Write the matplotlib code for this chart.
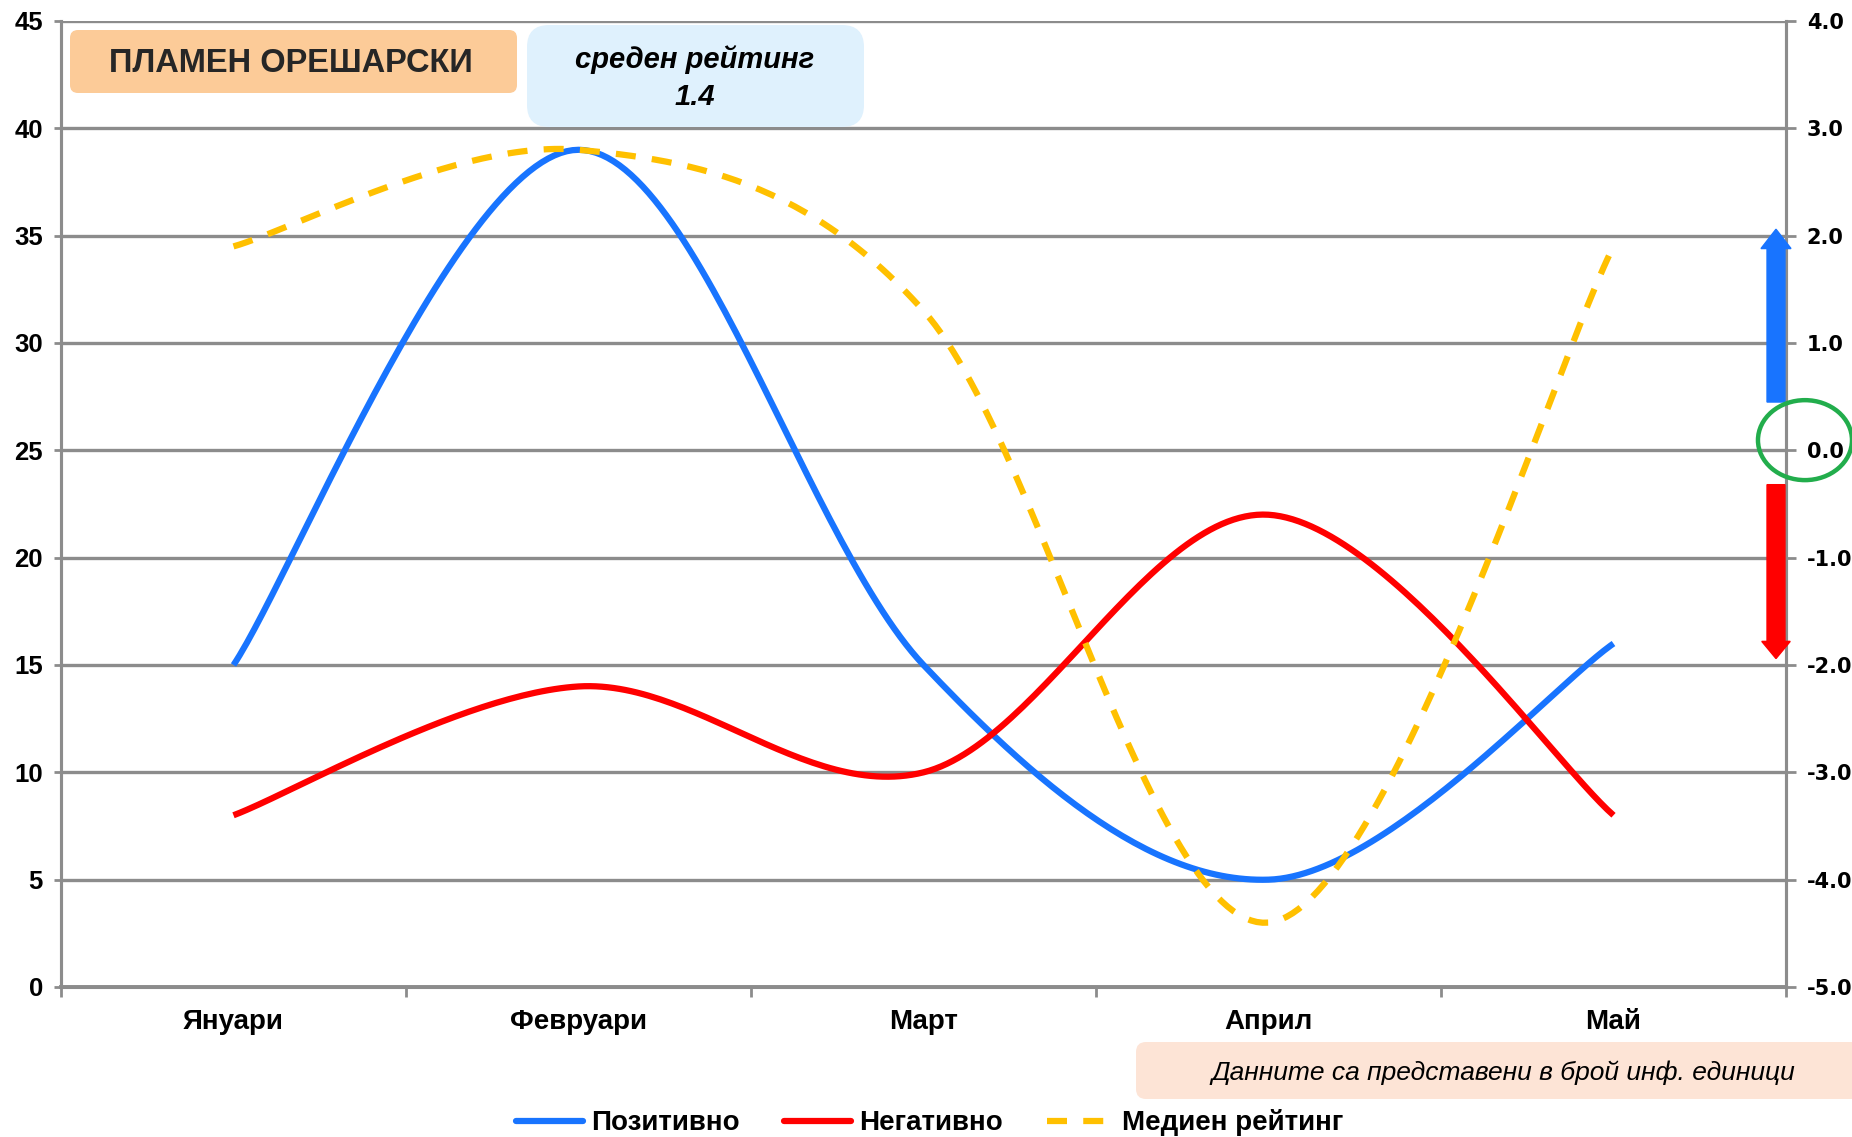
import numpy as np
import matplotlib
matplotlib.use("Agg")
import matplotlib.pyplot as plt
from matplotlib.patches import FancyBboxPatch, FancyArrow, Ellipse
from matplotlib.transforms import IdentityTransform, blended_transform_factory
from matplotlib.lines import Line2D

plt.rcParams["font.family"] = ["Liberation Sans", "DejaVu Sans"]

months = ["Януари", "Февруари", "Март", "Април", "Май"]
positive = [15, 39, 15, 5, 16]
negative = [8, 14, 10, 22, 8]
median_rating = [1.9, 2.8, 1.3, -4.4, 1.9]
left_ticks = list(range(0, 50, 5))
right_ticks = [-5, -4, -3, -2, -1, 0, 1, 2, 3, 4]

BLUE = "#1874ff"
RED = "#ff0000"
YELLOW = "#ffc000"
GRID = "#8c8c8c"
DASH = (3.2, 2.6)

W, H = 1852, 1137


def smooth(xs, ys, n=60):
    # Bezier smoothing like spreadsheet "smoothed line"
    pts = np.column_stack([xs, ys]).astype(float)
    padded = np.vstack([pts[0], pts, pts[-1]])
    t = np.linspace(0, 1, n)[:, None]
    out = []
    for i in range(len(pts) - 1):
        p0, p1, p2, p3 = padded[i], padded[i + 1], padded[i + 2], padded[i + 3]
        c1 = p1 + (p2 - p0) / 6
        c2 = p2 - (p3 - p1) / 6
        seg = (1 - t) ** 3 * p1 + 3 * (1 - t) ** 2 * t * c1 + 3 * (1 - t) * t ** 2 * c2 + t ** 3 * p2
        out.append(seg if i == 0 else seg[1:])
    s = np.vstack(out)
    return s[:, 0], s[:, 1]


fig = plt.figure(figsize=(W / 100, H / 100), dpi=100)
ax = fig.add_axes([61 / W, 1 - 987 / H, (1786 - 61) / W, (987 - 21) / H])
ax2 = ax.twinx()

x = np.arange(len(months))

bx, by = smooth(x, positive)
ax.plot(bx, by, color=BLUE, lw=4.5, solid_capstyle="butt", label="Позитивно", zorder=3)
rx, ry = smooth(x, negative)
ax.plot(rx, ry, color=RED, lw=4.5, solid_capstyle="butt", label="Негативно", zorder=3)
yx, yy = smooth(x, median_rating)
ax2.plot(yx, yy, color=YELLOW, lw=4.5, dashes=DASH, label="Медиен рейтинг", zorder=3)

ax.set_xlim(-0.5, len(months) - 0.5)
ax.set_ylim(0, 45)
ax2.set_ylim(-5, 4)

# left axis
ax.set_yticks(left_ticks)
ax.set_yticklabels([str(v) for v in left_ticks], fontsize=18.5, fontweight="bold")
ax.yaxis.grid(True, color=GRID, lw=2.4)
ax.set_axisbelow(True)
ax.tick_params(axis="y", length=5, width=2, color=GRID, pad=8)

# category axis: labels centred, ticks between categories
ax.set_xticks(x)
ax.set_xticklabels(months, fontsize=20, fontweight="bold")
ax.set_xticks(np.arange(-0.5, len(months)), minor=True)
ax.tick_params(axis="x", which="major", length=0, pad=16)
ax.tick_params(axis="x", which="minor", length=7, width=2, color=GRID)

# right axis
ax2.set_yticks(right_ticks)
ax2.set_yticklabels(["%.1f" % v for v in right_ticks], fontsize=15, fontweight="bold",
                    family=["DejaVu Sans"])
ax2.tick_params(axis="y", length=7, width=2, color=GRID, pad=8)

for a in (ax, ax2):
    a.spines["top"].set_visible(False)
    for side in ("left", "right", "bottom"):
        a.spines[side].set_color(GRID)
        a.spines[side].set_linewidth(2.2)
ax.spines["bottom"].set_linewidth(2.8)

# direction arrows and zero marker on the right axis
bt = blended_transform_factory(ax2.transAxes, ax2.transData)
ax2.add_patch(FancyArrow(0.9942, 0.45, 0, 2.06 - 0.45, width=0.0104, head_width=0.0174,
                         head_length=0.18, length_includes_head=True, color=BLUE,
                         transform=bt, clip_on=False, zorder=4))
ax2.add_patch(FancyArrow(0.9942, -0.32, 0, -1.94 + 0.32, width=0.0104, head_width=0.0165,
                         head_length=0.16, length_includes_head=True, color=RED,
                         transform=bt, clip_on=False, zorder=4))
ax2.add_patch(Ellipse((1.011, 0.095), 0.0545, 0.745, fill=False, edgecolor="#22ad4c",
                      lw=3.2, transform=bt, clip_on=False, zorder=4))


def box(x0, y0, x1, y1, color, radius):
    p = FancyBboxPatch((x0, H - y1), x1 - x0, y1 - y0,
                       boxstyle="round,pad=0,rounding_size=%d" % radius,
                       facecolor=color, edgecolor="none", transform=IdentityTransform(),
                       zorder=5)
    fig.patches.append(p)


box(70, 30, 517, 93, "#fccb98", 8)
fig.text(291 / W, 1 - 63 / H, "ПЛАМЕН ОРЕШАРСКИ", ha="center", va="center",
         fontsize=23.5, fontweight="bold", color="#262626", zorder=6)

box(527, 25, 864, 127, "#dff1fd", 22)
fig.text(695 / W, 1 - 78 / H, "среден рейтинг\n1.4", ha="center", va="center",
         fontsize=21, fontweight="bold", fontstyle="italic", linespacing=1.45, zorder=6)

box(1136, 1042, 1870, 1099, "#fde4d6", 10)
fig.text(1503 / W, 1 - 1073 / H, "Данните са представени в брой инф. единици",
         ha="center", va="center", fontsize=19, fontstyle="italic", zorder=6)

handles = [Line2D([], [], color=BLUE, lw=4.5, solid_capstyle="round"),
           Line2D([], [], color=RED, lw=4.5, solid_capstyle="round"),
           Line2D([], [], color=YELLOW, lw=4.5, dashes=DASH)]
fig.legend(handles, ["Позитивно", "Негативно", "Медиен рейтинг"], loc="center",
           bbox_to_anchor=(0.502, 1 - 1123 / H), ncol=3, frameon=False,
           prop={"size": 20, "weight": "bold"}, handlelength=2.4, handletextpad=0.3,
           columnspacing=1.6, borderpad=0)

fig.savefig("out.png", dpi=100)
